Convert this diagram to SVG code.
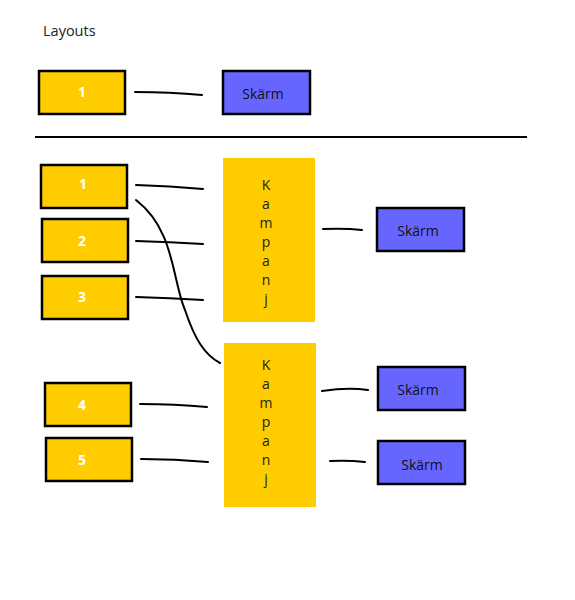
<svg xmlns="http://www.w3.org/2000/svg" width="575" height="600" viewBox="0 0 575 600">
<style>
.y{fill:#FFCC00;stroke:#000;stroke-width:2.5}
.b{fill:#6666FF;stroke:#000;stroke-width:2.5}
.k{fill:#FFCC00}
.n{font-family:"Open Sans","Liberation Sans",sans-serif;font-size:14px;font-weight:bold;fill:#fff;text-anchor:middle}
.s{font-family:"Open Sans","Liberation Sans",sans-serif;font-size:14px;fill:#111;text-anchor:middle}
.v{font-family:"Open Sans","Liberation Sans",sans-serif;font-size:14px;fill:#222;text-anchor:middle}
.c{fill:none;stroke:#000;stroke-width:2;stroke-linecap:round}
</style>
<rect width="575" height="600" fill="#fff"/>
<text x="43" y="36" font-family="'Open Sans','Liberation Sans',sans-serif" font-size="14.5" fill="#222">Layouts</text>
<line x1="35" y1="137" x2="527" y2="137" stroke="#000" stroke-width="2"/>
<g id="connectors">
<path class="c" d="M135,92 Q170,92 202,95"/>
<path class="c" d="M136,185 Q170,186 203,189"/>
<path class="c" d="M136,241 Q170,242 203,244"/>
<path class="c" d="M136,297 Q170,298 203,300"/>
<path class="c" stroke-width="3" d="M136,200 C175,230 172,280 185,310 C195,340 205,355 220,363"/>
<path class="c" stroke-width="2.5" d="M323,229 Q345,228 362,230"/>
<path class="c" d="M140,404 Q175,404 207,407"/>
<path class="c" d="M141,459 Q175,459 208,462"/>
<path class="c" stroke-width="3" d="M322,391 Q348,387 368,390"/>
<path class="c" d="M330,461 Q348,460 365,462"/>
</g>
<g id="top1"><rect class="y" x="39" y="71" width="86" height="43"/><text class="n" x="82" y="97">1</text></g>
<g id="topSkarm"><rect class="b" x="223" y="71" width="87" height="43"/><text class="s" x="263" y="99">Skärm</text></g>
<g id="n1"><rect class="y" x="41" y="165" width="86" height="43"/><text class="n" x="83" y="189">1</text></g>
<g id="n2"><rect class="y" x="42" y="219" width="86" height="43"/><text class="n" x="82" y="246">2</text></g>
<g id="n3"><rect class="y" x="42" y="276" width="86" height="43"/><text class="n" x="82" y="302">3</text></g>
<g id="n4"><rect class="y" x="45" y="383" width="86" height="43"/><text class="n" x="82" y="410">4</text></g>
<g id="n5"><rect class="y" x="46" y="438" width="86" height="43"/><text class="n" x="82" y="465">5</text></g>
<g id="kampanj1"><rect class="k" x="223" y="158" width="92" height="164"/>
<text class="v" x="266" y="190">K</text><text class="v" x="266" y="209">a</text><text class="v" x="266" y="228">m</text><text class="v" x="266" y="247">p</text><text class="v" x="266" y="266">a</text><text class="v" x="266" y="285">n</text><text class="v" x="266" y="304">j</text></g>
<g id="kampanj2"><rect class="k" x="224" y="343" width="92" height="164"/>
<text class="v" x="266" y="370">K</text><text class="v" x="266" y="389">a</text><text class="v" x="266" y="408">m</text><text class="v" x="266" y="427">p</text><text class="v" x="266" y="446">a</text><text class="v" x="266" y="465">n</text><text class="v" x="266" y="484">j</text></g>
<g id="skarm2"><rect class="b" x="377" y="208" width="87" height="43"/><text class="s" x="418" y="236">Skärm</text></g>
<g id="skarm3"><rect class="b" x="378" y="367" width="87" height="43"/><text class="s" x="418" y="395">Skärm</text></g>
<g id="skarm4"><rect class="b" x="378" y="441" width="87" height="43"/><text class="s" x="422" y="470">Skärm</text></g>
</svg>
